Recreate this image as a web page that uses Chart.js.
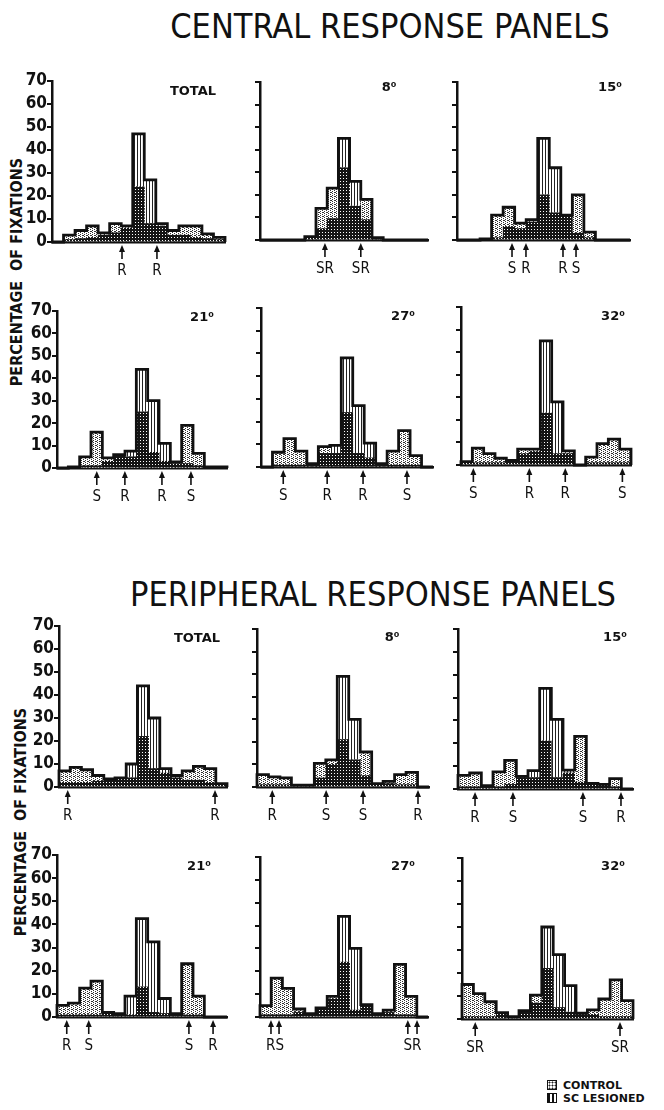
<!DOCTYPE html>
<html lang="en">
<head>
<meta charset="UTF-8">
<title>Central and peripheral response panels</title>
<style>
  body { margin: 0; background: #fff; }
  #page { position: relative; width: 664px; height: 1110px; overflow: hidden; color: #111;
          font-family: "Liberation Sans Narrow", "DejaVu Sans Condensed", "Liberation Sans", sans-serif; }
  .title { position: absolute; font-size: 34px; white-space: nowrap; transform: translate(-50%, -50%); }
  .ylab { position: absolute; font-size: 16px; font-weight: bold; white-space: nowrap;
          transform: translate(-50%, -50%) rotate(-90deg); }
  canvas.panel { position: absolute; }
  .legend { position: absolute; left: 547px; top: 1079px; font: bold 11px "DejaVu Sans", sans-serif; line-height: 13px; }
  .sw { display: inline-block; width: 8px; height: 8px; border: 1.5px solid #111; margin-right: 6px; vertical-align: -1px; }
  .sw.stip { background: #fff radial-gradient(#222 0.9px, transparent 1.1px) 0 0 / 3px 3px; }
  .sw.stripe { background: repeating-linear-gradient(90deg, #111 0 2px, #fff 2px 4px); }
</style>
</head>
<body>
<div id="page">
  <div class="title" style="left:390px; top:26px;">CENTRAL RESPONSE PANELS</div>
  <div class="title" style="left:373px; top:594px;">PERIPHERAL RESPONSE PANELS</div>
  <div class="ylab" style="left:16px; top:272px;">PERCENTAGE&nbsp; OF FIXATIONS</div>
  <div class="ylab" style="left:20px; top:822px;">PERCENTAGE&nbsp; OF FIXATIONS</div>
  <div class="legend">
    <div><span class="sw stip"></span>CONTROL</div>
    <div><span class="sw stripe"></span>SC LESIONED</div>
  </div>
</div>

<script src="https://cdn.jsdelivr.net/npm/chart.js"></script>
<script>
// 15 position bins per panel
const bins = ['1', '2', '3', '4', '5', '6', '7', '8', '9', '10', '11', '12', '13', '14', '15'];
const yTicks = [0, 10, 20, 30, 40, 50, 60, 70];

// central response panels (% of fixations)
const cTotalControl  = [0, 3, 5, 7, 4, 8, 6, 24, 8, 8, 5, 7, 7, 3.5, 2];
const cTotalLesioned = [0, 1, 1.5, 2, 3, 4, 7, 47, 27, 7, 3, 3, 2, 1.5, 1];
const c8Control      = [0, 0, 0, 0, 1.5, 14, 23, 32, 15, 18, 1, 0, 0, 0, 0];
const c8Lesioned     = [0, 0, 0, 0, 1, 5, 9.5, 45, 26, 9, 1, 0, 0, 0, 0];
const c15Control     = [0, 0, 0.5, 11, 14.5, 7.5, 9, 20, 12, 11, 20, 3.5, 0, 0, 0];
const c15Lesioned    = [0, 0, 0.5, 1, 6, 5, 8, 45, 32, 11, 3, 1, 0, 0, 0];
const c21Control     = [0, 0.5, 5, 16, 4.5, 6, 5, 25, 7, 3, 2.7, 19, 6.5, 0.5, 0.5];
const c21Lesioned    = [0, 0.5, 1, 1, 3, 6, 7.5, 44, 30, 11, 2, 2, 1, 0.5, 0.5];
const c27Control     = [0, 6.5, 12.5, 7, 1.5, 9, 6, 24, 6, 4, 1.5, 7, 16, 5, 0];
const c27Lesioned    = [0, 1, 1, 1, 1.5, 6, 9.5, 48, 27, 10.5, 1.5, 1, 1, 1, 0];
const c32Control     = [1.5, 7.5, 5, 3, 2, 7, 7, 23, 5, 6.3, 0, 3.5, 9.5, 11.5, 7];
const c32Lesioned    = [1, 1, 1, 1, 2, 5, 6, 55, 28, 5, 0, 1, 1, 1, 1];

// peripheral response panels
const pTotalControl  = [7, 8.5, 7.5, 5, 3, 4, 4, 22, 8, 6, 5, 7, 9, 8, 1.5];
const pTotalLesioned = [2, 2, 2, 2.5, 3.5, 4, 10, 44, 30, 8, 4, 3, 3, 2, 1.5];
const p8Control      = [5.5, 4.5, 4, 0.8, 0.8, 10.5, 12, 21, 12, 15.5, 1.5, 2.5, 5.5, 6.5, 0];
const p8Lesioned     = [1, 1, 1, 0.8, 0.8, 4, 10, 49, 30, 5, 1.5, 1.5, 1, 1, 0];
const p15Control     = [6, 7, 1.5, 7.5, 12.5, 5.5, 5, 21, 5, 7, 23, 2.5, 2, 4.5, 0];
const p15Lesioned    = [1, 1, 1.5, 1, 2, 5, 8, 44, 30.5, 8.3, 3, 2.5, 2, 1, 0];
const p21Control     = [5, 6, 12.5, 15.5, 2, 1.5, 1, 13, 2, 1.5, 1.5, 23, 9, 0, 0];
const p21Lesioned    = [1, 1, 1, 1, 2, 1.5, 9, 42.5, 32.5, 8, 1.5, 1, 1, 0, 0];
const p27Control     = [5, 17, 12.5, 3.5, 1.5, 4, 9, 24, 3, 5, 1.5, 3, 23, 9, 0];
const p27Lesioned    = [1, 1, 1, 2, 1.5, 4, 8, 44, 30, 5.4, 1.5, 2, 1, 1, 0];
const p32Control     = [15, 11, 7.5, 2.8, 1, 3.6, 10.4, 22, 5, 3, 2.5, 4, 8.7, 17, 8];
const p32Lesioned    = [1, 1, 1, 2.5, 1, 3, 7, 40, 28, 14.5, 2, 2, 1, 1, 1];

// arrow markers under the axis: [bin position, letter(s), optional letter position]
const cTotalMarks = [[5.57, 'R'], [8.6, 'R']];
const c8Marks     = [[5.3, 'SR'], [8.5, 'SR']];
const c15Marks    = [[4.27, 'S'], [5.48, 'R'], [8.69, 'R'], [9.82, 'S']];
const c21Marks    = [[3.01, 'S'], [5.49, 'R'], [8.76, 'R'], [11.32, 'S']];
const c27Marks    = [[1.44, 'S'], [5.27, 'R'], [8.4, 'R'], [12.23, 'S']];
const c32Marks    = [[0.59, 'S'], [5.53, 'R'], [8.7, 'R'], [13.74, 'S']];
const pTotalMarks = [[0.28, 'R'], [13.43, 'R']];
const p8Marks     = [[0.83, 'R'], [5.53, 'S'], [8.75, 'S'], [13.54, 'R']];
const p15Marks    = [[0.96, 'R'], [4.21, 'S'], [10.21, 'S'], [13.47, 'R']];
const p21Marks    = [[0.36, 'R'], [2.3, 'S'], [11.14, 'S'], [13.27, 'R']];
const p27Marks    = [[0.48, ''], [1.2, 'RS', 0.84], [12.7, 'SR', 13.11], [13.52, '']];
const p32Marks    = [[0.66, 'SR'], [13.36, 'SR']];

// where each plot area sits on the page
const panels = [
  { control: cTotalControl, lesioned: cTotalLesioned, marks: cTotalMarks, label: 'TOTAL', left: 52,  right: 225, top: 81,  bottom: 242, lx: -32, ly: 11, ticks: true },
  { control: c8Control,     lesioned: c8Lesioned,     marks: c8Marks,     label: '8⁰',    left: 260, right: 428, top: 82,  bottom: 240, lx: -39, ly: 6 },
  { control: c15Control,    lesioned: c15Lesioned,    marks: c15Marks,    label: '15⁰',   left: 457, right: 630, top: 82,  bottom: 240, lx: -20, ly: 6 },
  { control: c21Control,    lesioned: c21Lesioned,    marks: c21Marks,    label: '21⁰',   left: 57,  right: 227, top: 311, bottom: 468, lx: -25, ly: 7, ticks: true },
  { control: c27Control,    lesioned: c27Lesioned,    marks: c27Marks,    label: '27⁰',   left: 261, right: 433, top: 308, bottom: 467, lx: -30, ly: 9 },
  { control: c32Control,    lesioned: c32Lesioned,    marks: c32Marks,    label: '32⁰',   left: 461, right: 631, top: 307, bottom: 465, lx: -18, ly: 10 },
  { control: pTotalControl, lesioned: pTotalLesioned, marks: pTotalMarks, label: 'TOTAL', left: 59,  right: 227, top: 626, bottom: 787, lx: -30, ly: 13, ticks: true },
  { control: p8Control,     lesioned: p8Lesioned,     marks: p8Marks,     label: '8⁰',    left: 257, right: 429, top: 629, bottom: 787, lx: -37, ly: 9 },
  { control: p15Control,    lesioned: p15Lesioned,    marks: p15Marks,    label: '15⁰',   left: 458, right: 633, top: 629, bottom: 789, lx: -18, ly: 9 },
  { control: p21Control,    lesioned: p21Lesioned,    marks: p21Marks,    label: '21⁰',   left: 57,  right: 227, top: 855, bottom: 1017, lx: -28, ly: 12, ticks: true },
  { control: p27Control,    lesioned: p27Lesioned,    marks: p27Marks,    label: '27⁰',   left: 260, right: 428, top: 857, bottom: 1017, lx: -25, ly: 10 },
  { control: p32Control,    lesioned: p32Lesioned,    marks: p32Marks,    label: '32⁰',   left: 462, right: 633, top: 858, bottom: 1019, lx: -20, ly: 9 }
];

const PAD = { left: 10, top: 22, right: 12, bottom: 46 };
const YAXIS_W = 40;  // fixed width of the y scale box
const INK = '#111';
const NARROW = '"Liberation Sans Narrow", "DejaVu Sans Condensed", "Liberation Sans", sans-serif';

function makePattern(w, h, bg, fg, dots) {
  const c = document.createElement('canvas');
  c.width = w; c.height = h;
  const g = c.getContext('2d');
  g.fillStyle = bg; g.fillRect(0, 0, w, h);
  g.fillStyle = fg;
  dots.forEach(([x, y]) => g.fillRect(x, y, 1, 1));
  return g.createPattern(c, 'repeat');
}
const stipple = makePattern(4, 4, '#fff', '#333', [[0, 0], [2, 1], [0, 2], [2, 3], [1, 0]]);
const stripes = makePattern(3, 1, '#fff', '#222', [[0, 0]]);
const darkDots = makePattern(3, 3, '#151515', '#fff', [[1, 1]]);

// step outline around the taller of the two histograms
const outline = {
  id: 'outline',
  afterDatasetsDraw(chart) {
    const { ctx, scales: { x, y } } = chart;
    const c = chart.data.datasets[1].data, l = chart.data.datasets[2].data;
    ctx.save();
    ctx.beginPath();
    ctx.moveTo(x.getPixelForValue(-0.5), y.getPixelForValue(0));
    c.forEach((v, i) => {
      const top = y.getPixelForValue(Math.max(v, l[i]));
      ctx.lineTo(x.getPixelForValue(i - 0.5), top);
      ctx.lineTo(x.getPixelForValue(i + 0.5), top);
    });
    ctx.lineTo(x.getPixelForValue(c.length - 0.5), y.getPixelForValue(0));
    ctx.lineWidth = 2.8;
    ctx.strokeStyle = INK;
    ctx.stroke();
    ctx.restore();
  }
};

// panel title and the S / R arrows
const marks = {
  id: 'marks',
  afterDraw(chart, args, opts) {
    const { ctx, chartArea: a, scales: { x } } = chart;
    ctx.save();
    ctx.fillStyle = INK; ctx.strokeStyle = INK;
    ctx.textAlign = 'center'; ctx.textBaseline = 'middle';
    ctx.font = 'bold 13px "DejaVu Sans", sans-serif';
    ctx.fillText(opts.label, a.right + opts.lx, a.top + opts.ly);
    ctx.font = '15px "DejaVu Sans Condensed", "DejaVu Sans", sans-serif';
    opts.list.forEach(([pos, text, at]) => {
      const px = x.getPixelForValue(pos);
      const y0 = a.bottom;
      ctx.lineWidth = 1.6;
      ctx.beginPath(); ctx.moveTo(px, y0 + 8); ctx.lineTo(px, y0 + 17); ctx.stroke();
      ctx.beginPath(); ctx.moveTo(px, y0 + 3); ctx.lineTo(px - 3, y0 + 10); ctx.lineTo(px + 3, y0 + 10); ctx.closePath(); ctx.fill();
      if (text) ctx.fillText(text, x.getPixelForValue(at === undefined ? pos : at), y0 + 29);
    });
    ctx.restore();
  }
};

const page = document.getElementById('page');

panels.forEach(p => {
  const w = p.right - p.left + PAD.left + YAXIS_W + PAD.right;
  const h = p.bottom - p.top + PAD.top + PAD.bottom;
  const cv = document.createElement('canvas');
  cv.className = 'panel';
  cv.width = w; cv.height = h;
  cv.style.left = (p.left - PAD.left - YAXIS_W) + 'px';
  cv.style.top = (p.top - PAD.top) + 'px';
  cv.style.width = w + 'px'; cv.style.height = h + 'px';
  page.appendChild(cv);

  const both = p.control.map((v, i) => Math.min(v, p.lesioned[i]));

  new Chart(cv, {
    type: 'bar',
    data: {
      labels: bins,
      datasets: [
        { label: 'both', data: both, backgroundColor: darkDots },
        { label: 'CONTROL', data: p.control, backgroundColor: stipple },
        { label: 'SC LESIONED', data: p.lesioned, backgroundColor: stripes }
      ]
    },
    options: {
      responsive: false,
      animation: false,
      devicePixelRatio: 1,
      layout: { padding: PAD },
      datasets: { bar: { grouped: false, categoryPercentage: 1, barPercentage: 1, borderWidth: 0 } },
      plugins: {
        legend: { display: false },
        tooltip: { enabled: false },
        marks: { label: p.label, lx: p.lx, ly: p.ly, list: p.marks }
      },
      scales: {
        x: {
          grid: { display: false },
          ticks: { display: false },
          border: { display: true, color: INK, width: 2.5 },
          afterFit(s) { s.height = 0; }
        },
        y: {
          min: 0, max: 70,
          afterBuildTicks(s) { s.ticks = yTicks.map(v => ({ value: v })); },
          ticks: { display: !!p.ticks, color: INK, padding: 0, autoSkip: false, font: { family: NARROW, size: 17, weight: 'bold' } },
          grid: { drawOnChartArea: false, drawTicks: true, tickLength: 5, color: INK, lineWidth: 2 },
          border: { display: true, color: INK, width: 2.5 },
          afterFit(s) { s.width = YAXIS_W; }
        }
      }
    },
    plugins: [outline, marks]
  });
});
</script>
</body>
</html>
